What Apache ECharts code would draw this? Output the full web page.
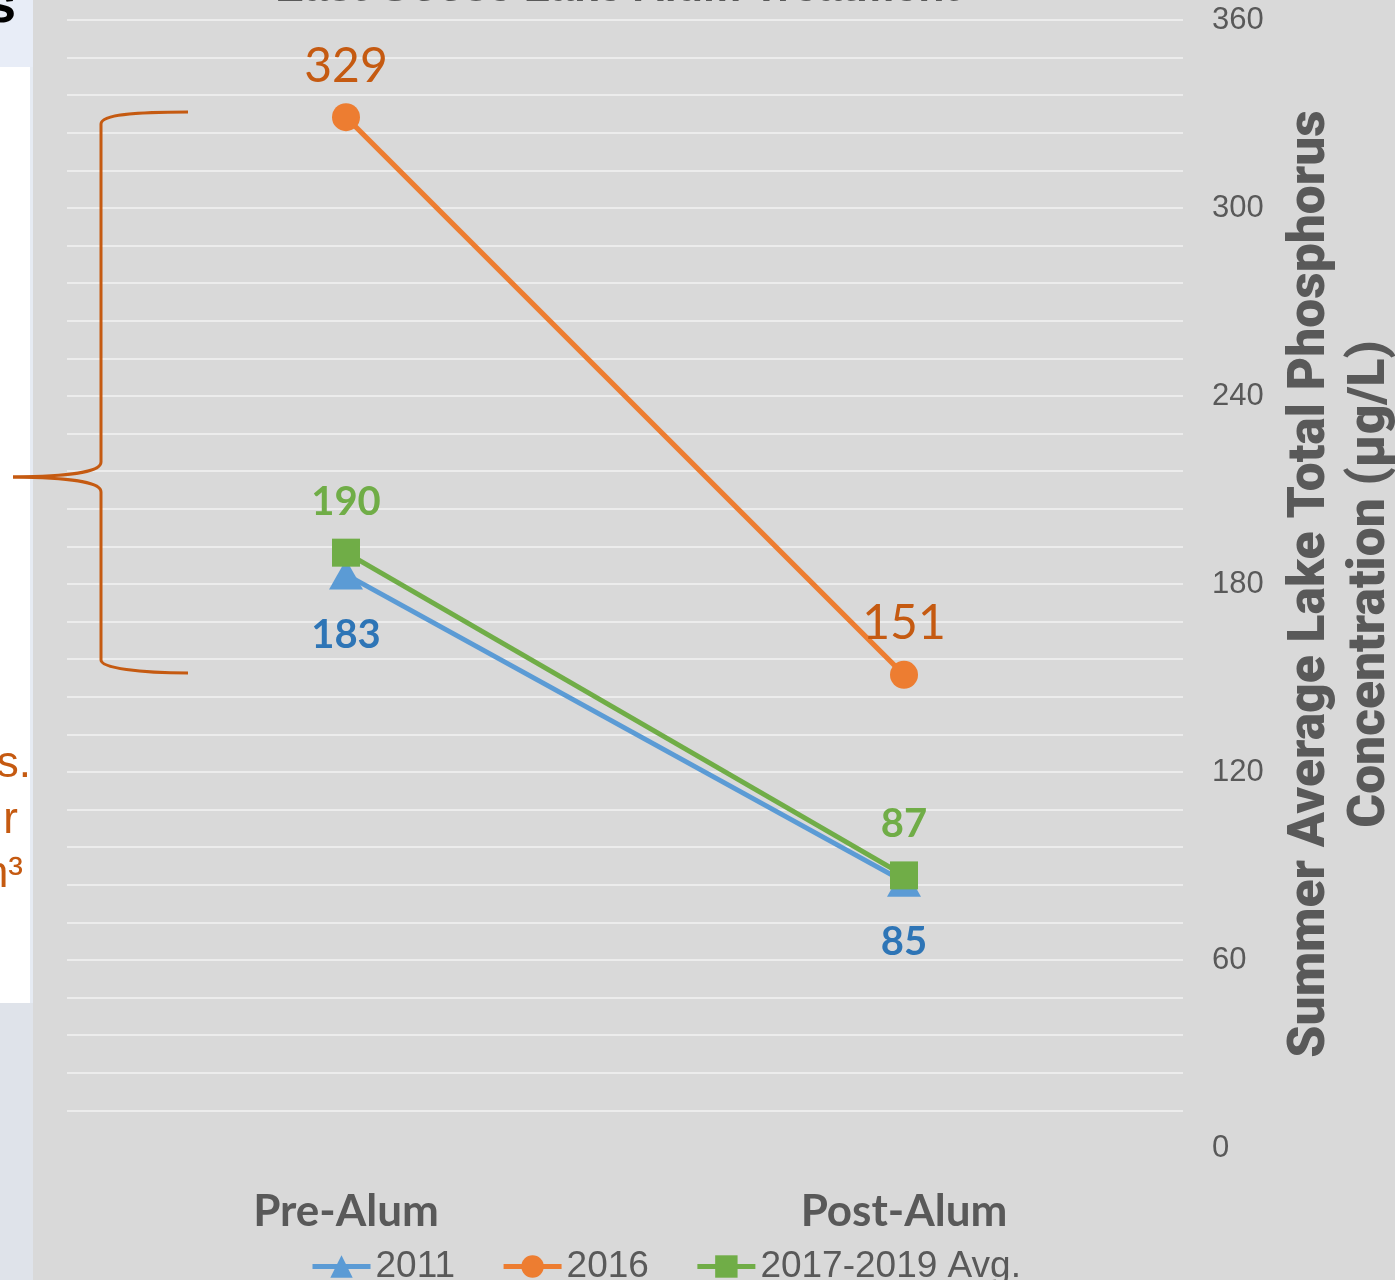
<!DOCTYPE html>
<html>
<head>
<meta charset="utf-8">
<script src="https://cdn.jsdelivr.net/npm/echarts@6/dist/echarts.min.js"></script>
<style>
  html, body { margin: 0; padding: 0; background: #d9d9d9; overflow: hidden; }
  #chart { width: 1395px; height: 1280px; }
</style>
</head>
<body>
<div id="chart"></div>
<script>
// Summer average total phosphorus (µg/L), before and after the alum treatment
const categories = ['Pre-Alum', 'Post-Alum'];
const seriesNames = ['2011', '2016', '2017-2019 Avg.'];
const tp2011 = [183, 85];
const tp2016 = [329, 151];
const tpAvg = [190, 87];

// value axis: light grid every 12 µg/L, labels every 60
const yMin = 0, yMax = 360, yStep = 12, yLabelStep = 60;

const chartTitle = 'East Goose Lake Alum Treatment';
const yTitle = 'Summer Average Lake Total Phosphorus\nConcentration (µg/L)';
const sideNotes = ['s.', 'r', 'm³'];

const GREY = '#595959';
const BLUE = '#5b9bd5', BLUE_DK = '#2e75b6';
const ORANGE = '#ed7d31', ORANGE_DK = '#c55a11';
const GREEN = '#70ad47';

const chart = echarts.init(document.getElementById('chart'), null, { renderer: 'canvas' });

function lineSeries(name, data, symbol, symbolSize, color, label) {
  return {
    name, type: 'line', data, symbol, symbolSize,
    lineStyle: { width: 5, color },
    itemStyle: { color },
    label: Object.assign({ show: true, fontFamily: 'Lato' }, label),
    emphasis: { disabled: true },
    animation: false
  };
}

// curly brace pieces
const braceStyle = { fill: 'none', stroke: ORANGE_DK, lineWidth: 3 };
function curve(x1, y1, cpx1, cpy1, cpx2, cpy2, x2, y2) {
  return { type: 'bezierCurve', z: 13, shape: { x1, y1, cpx1, cpy1, cpx2, cpy2, x2, y2 }, style: braceStyle };
}
function seg(x1, y1, x2, y2) {
  return { type: 'line', z: 13, shape: { x1, y1, x2, y2 }, style: braceStyle };
}

chart.setOption({
  backgroundColor: '#d9d9d9',
  animation: false,
  grid: { left: 67, right: 212, top: 20, bottom: 132, containLabel: false, outerBoundsMode: 'none' },
  legend: {
    data: seriesNames,
    left: 305, top: 1243,
    itemWidth: 58, itemHeight: 28, itemGap: 46,
    lineStyle: { width: 5 },
    textStyle: { fontFamily: 'Liberation Sans', fontSize: 37, color: GREY }
  },
  xAxis: {
    type: 'category',
    data: categories,
    boundaryGap: true,
    axisLine: { show: false },
    axisTick: { show: false },
    splitLine: { show: false },
    axisLabel: { fontFamily: 'Lato', fontWeight: 'bold', fontSize: 44, color: GREY, margin: 42 }
  },
  yAxis: {
    type: 'value',
    position: 'right',
    min: yMin, max: yMax, interval: yStep,
    axisLine: { show: false },
    axisTick: { show: false },
    axisLabel: {
      fontFamily: 'Liberation Sans', fontSize: 31, color: GREY, margin: 29,
      formatter: v => (v % yLabelStep === 0 ? String(v) : '')
    },
    splitLine: { show: true, showMinLine: false, lineStyle: { color: '#f2f2f2', width: 1.5 } },
    name: yTitle,
    nameLocation: 'middle',
    nameRotate: 90,
    nameGap: 98,
    nameTextStyle: { fontFamily: 'Roboto', fontWeight: 900, fontSize: 51.5, lineHeight: 60, color: GREY, align: 'center' }
  },
  series: [
    lineSeries(seriesNames[0], tp2011, 'triangle', [34, 30], BLUE,
      { position: 'bottom', distance: 25, fontSize: 40, fontWeight: 'bold', color: BLUE_DK }),
    lineSeries(seriesNames[1], tp2016, 'circle', 28, ORANGE,
      { position: 'top', distance: 13, fontSize: 48, fontWeight: 'normal', color: ORANGE_DK }),
    lineSeries(seriesNames[2], tpAvg, 'rect', 28, GREEN,
      { position: 'top', distance: 17, fontSize: 40, fontWeight: 'bold', color: GREEN })
  ],
  graphic: [
    // slide panels to the left of the chart
    { type: 'rect', shape: { x: 0, y: 0, width: 33, height: 67 }, style: { fill: '#e8edf7' }, z: 10 },
    { type: 'rect', shape: { x: 0, y: 67, width: 33, height: 936 }, style: { fill: '#e6ebf3' }, z: 10 },
    { type: 'rect', shape: { x: 0, y: 67, width: 30, height: 936 }, style: { fill: '#ffffff' }, z: 11 },
    { type: 'rect', shape: { x: 0, y: 1003, width: 33, height: 277 }, style: { fill: '#dfe3ea' }, z: 10 },
    {
      type: 'text', x: 16, y: 34, z: 12,
      style: { text: 's', fontFamily: 'Liberation Sans', fontWeight: 'bold', fontSize: 54, fill: '#000', align: 'right', verticalAlign: 'bottom' }
    },
    {
      type: 'text', x: 31, y: 765, z: 12,
      style: { text: sideNotes[0], fontFamily: 'Liberation Sans', fontSize: 44, fill: ORANGE_DK, align: 'right', verticalAlign: 'middle' }
    },
    {
      type: 'text', x: 18, y: 821, z: 12,
      style: { text: sideNotes[1], fontFamily: 'Liberation Sans', fontSize: 44, fill: ORANGE_DK, align: 'right', verticalAlign: 'middle' }
    },
    {
      type: 'text', x: 23, y: 875, z: 12,
      style: { text: sideNotes[2], fontFamily: 'Liberation Sans', fontSize: 44, fill: ORANGE_DK, align: 'right', verticalAlign: 'middle' }
    },
    // curly brace grouping the pre-alum values
    curve(188, 112, 140, 112, 101, 114, 101, 124),
    seg(101, 124, 101, 462),
    curve(101, 462, 101, 471, 80, 476, 13, 477),
    curve(13, 477, 80, 478, 101, 483, 101, 492),
    seg(101, 492, 101, 660),
    curve(101, 660, 101, 668, 140, 673, 188, 673),
    // chart heading, running off the top edge
    {
      type: 'text', x: 617, y: -11, z: 12,
      style: { text: chartTitle, fontFamily: 'Liberation Sans', fontWeight: 'bold', fontSize: 43, fill: GREY, align: 'center', verticalAlign: 'middle' }
    }
  ]
});
</script>
</body>
</html>
